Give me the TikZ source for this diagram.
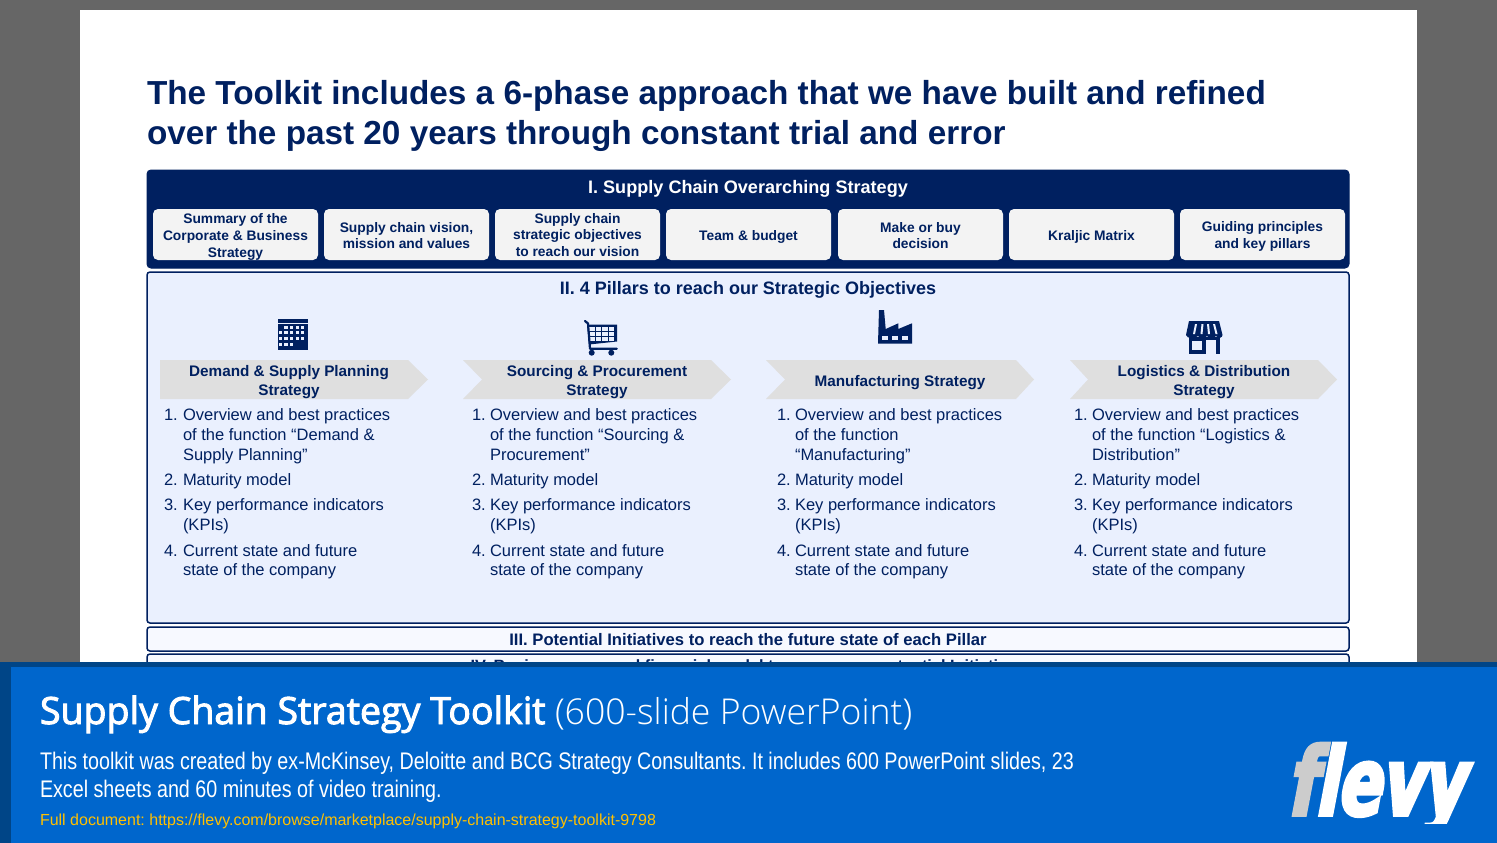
\documentclass[tikz,border=0pt]{standalone}
\usepackage{fontspec}
\setmainfont{Liberation Sans}
\newfontfamily\osans[FakeBold=2.6]{Open Sans}
\newfontfamily\oslight{Open Sans Light}
\newfontfamily\condf[FakeStretch=0.8205]{Liberation Sans}
\newfontfamily\logof[FakeStretch=0.68,FakeSlant=0.19,FakeBold=4]{DejaVu Sans Bold}
\definecolor{navy}{HTML}{002060}
\definecolor{pale}{HTML}{EAF0FE}
\definecolor{paler}{HTML}{F7F9FF}
\definecolor{btn}{HTML}{F3F3F3}
\definecolor{chev}{HTML}{DFDFDF}
\definecolor{band}{HTML}{0066CC}
\definecolor{bandd}{HTML}{004587}
\definecolor{linkc}{HTML}{FFC000}
\definecolor{bggray}{HTML}{666666}
\newcommand{\fs}[1]{\fontsize{#1}{#1}\selectfont}
\frenchspacing
\tikzset{
  x=1pt,y=-1pt,
  plain/.style={inner sep=0pt,outer sep=0pt},
  sectbox/.style={draw=navy,line width=1.5pt,rounded corners=3pt},
  btnbox/.style={plain,fill=btn,rounded corners=5pt,minimum width=165pt,minimum height=51pt,anchor=north west},
  btntext/.style={plain,text=navy,font=\bfseries\fontsize{13.8}{16.8}\selectfont,align=center},
  chevlab/.style={plain,text=navy,font=\bfseries\fontsize{15.3}{19}\selectfont,align=center},
  litem/.style={plain,anchor=base west,text=navy,font=\fs{16.5}},
  icon/.style={fill=navy,draw=none}
}
% one pillar's numbered list
\newcommand{\pillarlist}[6]{%
  \node[litem,name=#1n1] at (#2,420) {1.};
  \node[litem,name=#1a] at (#3,420) {#4};
  \node[litem,name=#1b] at (#3,440) {#5};
  \node[litem,name=#1c] at (#3,460) {#6};
  \node[litem,name=#1n2] at (#2,485) {2.};
  \node[litem,name=#1d] at (#3,485) {Maturity model};
  \node[litem,name=#1n3] at (#2,510) {3.};
  \node[litem,name=#1e] at (#3,510) {Key performance indicators};
  \node[litem,name=#1f] at (#3,530) {(KPIs)};
  \node[litem,name=#1n4] at (#2,556) {4.};
  \node[litem,name=#1g] at (#3,556) {Current state and future};
  \node[litem,name=#1h] at (#3,575) {state of the company};
}
% one button: name, left x, text centre y, text
\newcommand{\btnnode}[4]{%
  \node[btnbox,name=#1] at (#2,209) {};
  \node[btntext,name=#1t] at (#2+82.5,#3) {#4};
}
\begin{document}
\begin{tikzpicture}
\useasboundingbox (0,0) rectangle (1497,843);
\fill[bggray] (0,0) rectangle (1497,843);
\fill[white] (80,10) rectangle (1417,843);
% title
\node[plain,anchor=base west,text=navy,font=\bfseries\fs{33.3}] (t1) at (147,104) {The Toolkit includes a 6-phase approach that we have built and refined};
\node[plain,anchor=base west,text=navy,font=\bfseries\fs{33.3}] (t2) at (147,144) {over the past 20 years through constant trial and error};
% section I
\draw[navy,fill=navy,line width=1pt,rounded corners=4pt] (147,170) rectangle (1349,268);
\node[plain,text=white,font=\bfseries\fs{18.1}] (s1) at (748,188.5) {I. Supply Chain Overarching Strategy};
\btnnode{b1}{153}{237}{Summary of the\\Corporate \& Business\\Strategy}
\btnnode{b2}{324}{235.5}{Supply chain vision,\\mission and values}
\btnnode{b3}{495}{235}{Supply chain\\strategic objectives\\to reach our vision}
\btnnode{b4}{666}{237}{Team \& budget}
\btnnode{b5}{838}{235.5}{Make or buy\\decision}
\btnnode{b6}{1009}{237}{Kraljic Matrix}
\btnnode{b7}{1180}{236.5}{Guiding principles\\and key pillars}
% section II
\draw[sectbox,fill=pale] (147,272) rectangle (1349,623);
\node[plain,text=navy,font=\bfseries\fs{18}] (s2) at (748,290) {II. 4 Pillars to reach our Strategic Objectives};
% chevrons
\fill[chev] (160,360) -- (408,360) -- (428,379.5) -- (408,399) -- (160,399) -- cycle;
\fill[chev] (463,360) -- (711,360) -- (731,379.5) -- (711,399) -- (463,399) -- (482,379.5) -- cycle;
\fill[chev] (766,360) -- (1016,360) -- (1034,379.5) -- (1016,399) -- (766,399) -- (785,379.5) -- cycle;
\fill[chev] (1070,360) -- (1318,360) -- (1337,379.5) -- (1318,399) -- (1070,399) -- (1088,379.5) -- cycle;
\node[chevlab] (c1) at (289,382) {Demand \& Supply Planning\\Strategy};
\node[chevlab] (c2) at (597,382) {Sourcing \& Procurement\\Strategy};
\node[chevlab] (c3) at (900,382.5) {Manufacturing Strategy};
\node[chevlab] (c4) at (1204,382) {Logistics \& Distribution\\Strategy};
% calendar icon
\fill[icon] (277.5,319) rectangle (307.5,323);
\fill[icon] (277.5,324) rectangle (307.5,349.5);
\foreach \cx/\cy in {284.4/325.7,290/325.7,295.6/325.7,301/325.7,
                     279/331,284.4/331,290/331,295.6/331,301/331,
                     279/336.7,284.4/336.7,290/336.7,295.6/336.7,301/336.7,
                     279/342.7,284.4/342.7,290/342.7}
  \fill[pale] (\cx,\cy) rectangle ++(3.3,3.3);
% cart icon
\fill[icon] (587,324.5) -- (617,324.5) -- (617,341.5) -- (589,344.5) -- cycle;
\foreach \cx/\cw in {589.3/5.7,596/5,602.3/5.4,609/5.3}
  \foreach \cy in {327.3,332.3,337.3}
    \fill[pale] (\cx,\cy) rectangle ++(\cw,3.6);
\draw[navy,line width=2.2pt,line cap=round,line join=round] (585,321) -- (588,323.5) -- (590,348.8) -- (616.8,348.8);
\fill[navy] (591.7,352.7) circle (3);
\fill[navy] (611.3,352.7) circle (3);
% factory icon
\fill[icon] (879,310) -- (884,310) -- (885.7,329) -- (898.3,323.3) -- (898.3,329) -- (912,323.3) -- (912,343.5) -- (878,343.5) -- cycle;
\foreach \cx in {882.3,892.3,902.3}
  \fill[pale] (\cx,335.7) rectangle ++(6,4.3);
% store icon
\fill[icon] (1189,321) -- (1219,321) -- (1222.5,335) .. controls (1222.5,338) and (1218,339) .. (1216,336) .. controls (1213,339) and (1209,339) .. (1207,336) .. controls (1204,339) and (1200,339) .. (1198,336) .. controls (1195,339) and (1187,339) .. (1186,335) -- cycle;
\foreach \ax/\bx in {1195/1193,1201.5/1200.5,1207/1208,1213/1215.5}
  \fill[pale] (\ax,324) -- ++(2,0) -- (\bx+2,334) -- (\bx,334) -- cycle;
\fill[icon] (1188.5,337) rectangle (1219.5,354);
\fill[pale] (1192,341) rectangle (1202,350);
\fill[pale] (1206,340) rectangle (1216,354);
% lists
\pillarlist{p}{164}{183}{Overview and best practices}{of the function “Demand \&}{Supply Planning”}
\pillarlist{q}{472}{490}{Overview and best practices}{of the function “Sourcing \&}{Procurement”}
\pillarlist{r}{777}{795}{Overview and best practices}{of the function}{“Manufacturing”}
\pillarlist{u}{1074}{1092}{Overview and best practices}{of the function “Logistics \&}{Distribution”}
% sections III, IV
\draw[sectbox,fill=paler] (147,627) rectangle (1349,651);
\node[plain,text=navy,font=\bfseries\fs{16.65}] (s3) at (748,639.5) {III. Potential Initiatives to reach the future state of each Pillar};
\draw[sectbox,fill=paler] (147,654) rectangle (1349,690);
\node[plain,text=navy,font=\bfseries\fs{16.3}] (s4) at (748,667) {IV. Business case and financial model to assess our potential Initiatives};
% bottom band
\fill[bandd] (0,662) rectangle (1497,843);
\fill[band] (11,667) rectangle (1497,843);
\node[plain,anchor=base west,text=white,font=\osans\fs{37.5}] (h1) at (40,724) {Supply Chain Strategy Toolkit};
\node[plain,anchor=base west,text=white,font=\oslight\fs{35.6}] (h2) at (555,724) {(600-slide PowerPoint)};
\node[plain,anchor=base west,text=white,font=\condf\fs{24}] (d1) at (40,769) {This toolkit was created by ex-McKinsey, Deloitte and BCG Strategy Consultants. It includes 600 PowerPoint slides, 23};
\node[plain,anchor=base west,text=white,font=\condf\fs{24}] (d2) at (40,797) {Excel sheets and 60 minutes of video training.};
\node[plain,anchor=base west,text=linkc,font=\fs{16}] (l1) at (40,825) {Full document: https://flevy.com/browse/marketplace/supply-chain-strategy-toolkit-9798};
\begin{scope}
\clip (1280,735) rectangle (1497,823.5);
\node[plain,anchor=base west,font=\logof\fs{94}] (lg) at (1287,815) {\textcolor[HTML]{CCCCCC}{f}\textcolor{white}{levy}};
\end{scope}
\end{tikzpicture}
\end{document}
